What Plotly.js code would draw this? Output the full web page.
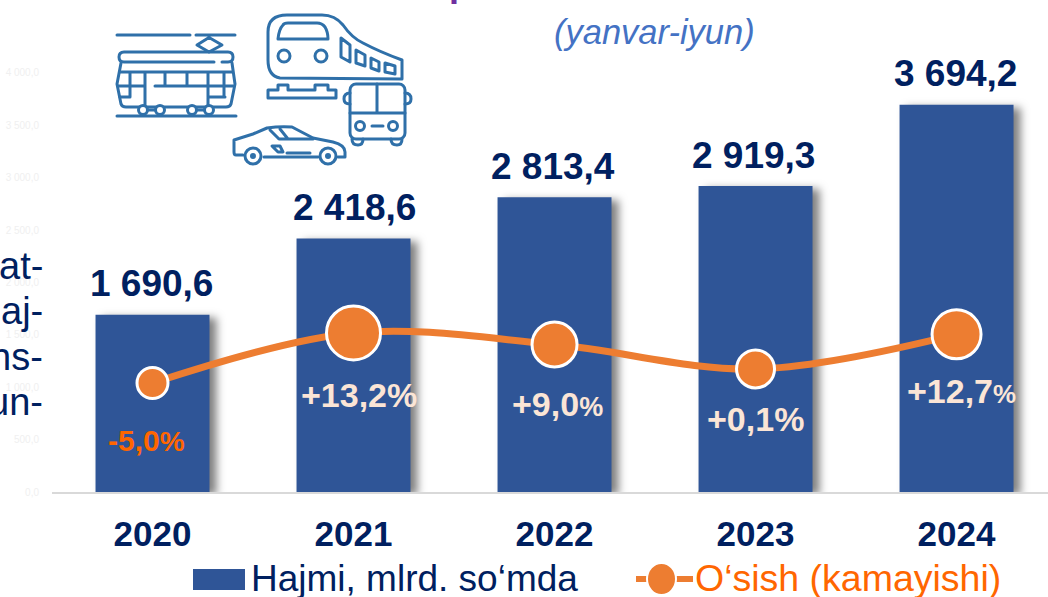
<!DOCTYPE html>
<html>
<head>
<meta charset="utf-8">
<script src="https://cdn.plot.ly/plotly-3.0.1.min.js"></script>
<style>html,body{margin:0;padding:0;background:#fff;overflow:hidden}#c{width:1048px;height:597px}</style>
</head>
<body>
<div id="c"></div>
<script>
const years = ['2020','2021','2022','2023','2024'];
const volumes = [1690.6, 2418.6, 2813.4, 2919.3, 3694.2];
const growth = [-5.0, 13.2, 9.0, 0.1, 12.7];
const volumeLabels = ['1 690,6','2 418,6','2 813,4','2 919,3','3 694,2'];
const growthLabels = ['-5,0','+13,2','+9,0','+0,1','+12,7'];
const yTickVals = [0,500,1000,1500,2000,2500,3000,3500,4000];
const yTickText = ['0,0','500,0','1 000,0','1 500,0','2 000,0','2 500,0','3 000,0','3 500,0','4 000,0'];
const cutOffText = ['at-','aj-','ns-','un-'];

const W = 1048, H = 597, L = 52, T = 20, B = 105;
const PW = W - L, PH = H - T - B;
const px = x => (x - L) / PW;
const py = y => (T + PH - y) / PH;

const NAVY = '#002060', BLUE = '#2F5597', ORANGE = '#ED7D31', TXT_OR = '#FF6600', PEACH = '#FBE5D6';
const FONT = '"Liberation Sans", Arial, sans-serif';

const bars = {type:'bar', x:years, y:volumes, name:'Hajmi, mlrd. so‘mda',
  marker:{color:BLUE, line:{width:0}}, hoverinfo:'x+y', cliponaxis:false};
const line = {type:'scatter', mode:'lines+markers', x:years, y:growth, yaxis:'y2', name:'O‘sish (kamayishi)',
  line:{color:ORANGE, width:7, shape:'spline', smoothing:1},
  marker:{color:ORANGE, opacity:1, size:[31,54,45,38,49], line:{color:'#fff', width:3}}, cliponaxis:false};

const annotations = [];
const valueDx = [-1,1,-2,-2,-1];
years.forEach((y,i)=>annotations.push({xref:'x', yref:'y', x:i, y:volumes[i], xshift:valueDx[i], yshift:31,
  text:'<b>'+volumeLabels[i]+'</b>', showarrow:false, xanchor:'center', yanchor:'middle',
  font:{family:FONT, size:37, color:NAVY}}));

const pctDx = [-6,5,3,0,5], pctDy = [-57,-62,-60,-50,-57];
const pctMain = [30,34,34,34,34], pctSign = [28,34,27,34,26];
years.forEach((y,i)=>annotations.push({xref:'x', yref:'y2', x:i, y:growth[i], xshift:pctDx[i], yshift:pctDy[i],
  text:'<b>'+growthLabels[i]+'<span style="font-size:'+pctSign[i]+'px">%</span></b>', showarrow:false, xanchor:'center', yanchor:'middle',
  font:{family:FONT, size:pctMain[i], color:i===0?TXT_OR:PEACH}}));

const cutY = [266,311,357,402];
cutOffText.forEach((t,i)=>annotations.push({xref:'paper', yref:'paper', x:px(45), y:py(cutY[i]),
  text:t, showarrow:false, xanchor:'right', yanchor:'middle', font:{family:FONT, size:38, color:NAVY}}));

annotations.push({xref:'paper', yref:'paper', x:px(654.5), y:py(32), text:'<i>(yanvar-iyun)</i>', showarrow:false,
  xanchor:'center', yanchor:'middle', font:{family:FONT, size:34.5, color:'#4472C4'}});
annotations.push({xref:'paper', yref:'paper', x:px(460), y:py(6), text:'<b>p</b>', showarrow:false,
  xanchor:'center', yanchor:'bottom', font:{family:FONT, size:36, color:'#7030A0'}});
annotations.push({xref:'paper', yref:'paper', x:px(249), y:py(578), text:'Hajmi, mlrd. so‘mda', showarrow:false,
  xanchor:'left', yanchor:'middle', font:{family:FONT, size:37, color:NAVY}});
annotations.push({xref:'paper', yref:'paper', x:px(693), y:py(578), text:'O‘sish (kamayishi)', showarrow:false,
  xanchor:'left', yanchor:'middle', font:{family:FONT, size:37.5, color:TXT_OR}});

const shapes = [
  {type:'rect', xref:'paper', yref:'paper', x0:px(193), x1:px(245), y0:py(569), y1:py(590), fillcolor:BLUE, line:{width:0}},
  {type:'line', xref:'paper', yref:'paper', x0:px(636), x1:px(693), y0:py(579), y1:py(579), line:{color:ORANGE, width:6}},
  {type:'circle', xref:'paper', yref:'paper', x0:px(647), x1:px(676), y0:py(563), y1:py(595), fillcolor:ORANGE, line:{color:'#fff', width:2}}
];

const s = 'fill="none" stroke="#2F70A9" stroke-width="3" stroke-linecap="round" stroke-linejoin="round"';
const icons = `<svg xmlns="http://www.w3.org/2000/svg" width="320" height="170" viewBox="105 5 320 170"><g ${s}>
<path d="M117 35H190M196 35H235M197 45L209 37.5L222 45L209 52Z"/>
<path d="M124 52H228Q233 52 233 57Q233 62 228 62H222M214 62H124Q119 62 119 57Q119 52 124 52"/>
<path d="M121 63L117 84L121 104Q122 107 126 107H226Q230 107 231 104L235 84L232 63"/>
<path d="M120 72H232M118 86H145M155 86H233M120 97H130M208 97H225M130 72V97M145 72V107M165 72V86M187 72V86M208 72V107M224 72V97"/>
<path d="M117 116H236"/>
<path d="M148 110H155M197 110H204" />
<circle cx="143" cy="110" r="4.5" fill="#fff"/><circle cx="160" cy="110" r="4.5" fill="#fff"/><circle cx="192" cy="110" r="4.5" fill="#fff"/><circle cx="209" cy="110" r="4.5" fill="#fff"/>
<path d="M280 78Q268 76 268 60V32Q268 15 287 15H322Q335 15 343 25Q352 38 363 43Q380 52 402 60V79Z"/>
<path d="M278 39Q279 29 283 25Q284 23 288 23H317Q322 23 325 27Q328 32 328 39Z"/>
<circle cx="284" cy="56" r="6"/><circle cx="321" cy="56" r="6"/>
<path d="M341 38L350 45V62L341 57ZM356 50L365 55V66L356 63ZM371 58L379 62V71L371 68ZM385 63L395 66V74L385 72Z"/>
<path d="M268 98V90H278V85H288V90H315V85H328V90H336V98Z"/>
<rect x="350" y="84" width="55" height="55" rx="6"/>
<path d="M377 84V113M350 113H405M372 126H383M350 93Q344 93 344 99Q344 104 350 104M405 93Q411 93 411 99Q411 104 405 104M352 139Q352 145 358 145Q363 145 363 139M391 139Q391 145 397 145Q402 145 402 139"/>
<circle cx="360" cy="126" r="4.5"/><circle cx="393" cy="126" r="4.5"/>
<path d="M243 155H236Q234 155 234 152V140L253 134L267 128Q280 126 292 127L313 138L333 142Q345 145 345 152V157H338M318 157H264"/>
<path d="M270 130L279 139H313M280 129L288 139"/>
<path d="M272 146H280L283 152H278ZM287 153H310"/>
<circle cx="253" cy="156" r="8"/><circle cx="328" cy="156" r="8"/>
</g><circle cx="253" cy="156" r="3" fill="#2F70A9"/><circle cx="328" cy="156" r="3" fill="#2F70A9"/></svg>`;

const layout = {
  width:W, height:H, autosize:false, showlegend:false, paper_bgcolor:'#fff', plot_bgcolor:'rgba(0,0,0,0)',
  margin:{l:L, r:0, t:T, b:B, pad:0},
  font:{family:FONT},
  bargap:0.433,
  xaxis:{type:'category', categoryorder:'array', categoryarray:years, range:[-0.5,4.455], showgrid:false, zeroline:false,
    showline:true, linecolor:'#D9D9D9', linewidth:2, ticks:'outside', ticklen:10, tickcolor:'rgba(0,0,0,0)',
    tickfont:{family:FONT, size:35, color:NAVY, weight:700}},
  yaxis:{range:[0,4504], tickvals:yTickVals, ticktext:yTickText, showgrid:false, zeroline:false, showline:false,
    ticks:'outside', ticklen:10, tickcolor:'rgba(0,0,0,0)', tickfont:{family:FONT, size:10, color:'#F0F0F0'}},
  yaxis2:{overlaying:'y', side:'right', range:[-44.6,126.9], visible:false},
  annotations, shapes,
  images:[{source:'data:image/svg+xml;charset=utf-8,'+encodeURIComponent(icons), xref:'paper', yref:'paper',
    x:px(105), y:py(5), sizex:320/PW, sizey:170/PH, xanchor:'left', yanchor:'top', sizing:'stretch', layer:'above'}]
};

Plotly.newPlot('c',[bars,line],layout,{displayModeBar:false,staticPlot:true}).then(gd=>{
  gd.querySelectorAll('.barlayer .point path').forEach(p=>{
    p.style.filter='drop-shadow(7px 3px 4px rgba(0,0,0,0.5))';
  });
});
</script>
</body>
</html>
